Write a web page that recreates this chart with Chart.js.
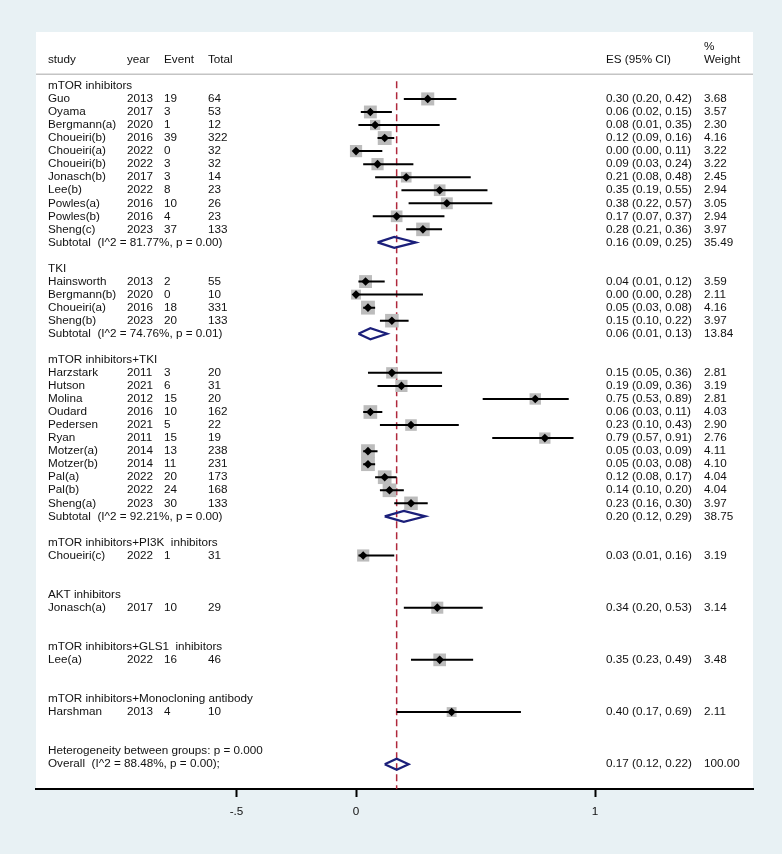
<!DOCTYPE html>
<html><head><meta charset="utf-8">
<script src="https://cdn.jsdelivr.net/npm/chart.js@4.4.1/dist/chart.umd.min.js"></script>
<style>html,body{margin:0;padding:0;background:#e8f1f4;}canvas{display:block;}</style>
</head><body>
<canvas id="c" width="782" height="854"></canvas>
<script>
// ---------- DATA ----------
const groupNames = [
  "mTOR inhibitors",
  "TKI",
  "mTOR inhibitors+TKI",
  "mTOR inhibitors+PI3K  inhibitors",
  "AKT inhibitors",
  "mTOR inhibitors+GLS1  inhibitors",
  "mTOR inhibitors+Monocloning antibody"
];
const studies = ["Guo","Oyama","Bergmann(a)","Choueiri(b)","Choueiri(a)","Choueiri(b)","Jonasch(b)","Lee(b)","Powles(a)","Powles(b)","Sheng(c)",
  "Hainsworth","Bergmann(b)","Choueiri(a)","Sheng(b)",
  "Harzstark","Hutson","Molina","Oudard","Pedersen","Ryan","Motzer(a)","Motzer(b)","Pal(a)","Pal(b)","Sheng(a)",
  "Choueiri(c)","Jonasch(a)","Lee(a)","Harshman"];
const groupOf = [0,0,0,0,0,0,0,0,0,0,0, 1,1,1,1, 2,2,2,2,2,2,2,2,2,2,2, 3,4,5,6];
const years  = [2013,2017,2020,2016,2022,2022,2017,2022,2016,2016,2023, 2013,2020,2016,2023, 2011,2021,2012,2016,2021,2011,2014,2014,2022,2022,2023, 2022,2017,2022,2013];
const events = [19,3,1,39,0,3,3,8,10,4,37, 2,0,18,20, 3,6,15,10,5,15,13,11,20,24,30, 1,10,16,4];
const totals = [64,53,12,322,32,32,14,23,26,23,133, 55,10,331,133, 20,31,20,162,22,19,238,231,173,168,133, 31,29,46,10];
const es = [0.30,0.06,0.08,0.12,0.00,0.09,0.21,0.35,0.38,0.17,0.28, 0.04,0.00,0.05,0.15, 0.15,0.19,0.75,0.06,0.23,0.79,0.05,0.05,0.12,0.14,0.23, 0.03,0.34,0.35,0.40];
const lo = [0.20,0.02,0.01,0.09,0.00,0.03,0.08,0.19,0.22,0.07,0.21, 0.01,0.00,0.03,0.10, 0.05,0.09,0.53,0.03,0.10,0.57,0.03,0.03,0.08,0.10,0.16, 0.01,0.20,0.23,0.17];
const hi = [0.42,0.15,0.35,0.16,0.11,0.24,0.48,0.55,0.57,0.37,0.36, 0.12,0.28,0.08,0.22, 0.36,0.36,0.89,0.11,0.43,0.91,0.09,0.08,0.17,0.20,0.30, 0.16,0.53,0.49,0.69];
const weights = [3.68,3.57,2.30,4.16,3.22,3.22,2.45,2.94,3.05,2.94,3.97, 3.59,2.11,4.16,3.97, 2.81,3.19,2.81,4.03,2.90,2.76,4.11,4.10,4.04,4.04,3.97, 3.19,3.14,3.48,2.11];
const subLabels = ["Subtotal  (I^2 = 81.77%, p = 0.00)","Subtotal  (I^2 = 74.76%, p = 0.01)","Subtotal  (I^2 = 92.21%, p = 0.00)",null,null,null,null];
const subES = [0.16,0.06,0.20,null,null,null,null];
const subLo = [0.09,0.01,0.12,null,null,null,null];
const subHi = [0.25,0.13,0.29,null,null,null,null];
const subW  = [35.49,13.84,38.75,null,null,null,null];
const hetLabel = "Heterogeneity between groups: p = 0.000";
const overallLabel = "Overall  (I^2 = 88.48%, p = 0.00);";
const overallES = 0.17, overallLo = 0.12, overallHi = 0.22, overallW = 100.00;
const headerCols = ["study","year","Event","Total"];
const tickValues = [-0.5, 0, 1];
const tickLabels = ["-.5", "0", "1"];

// ---------- ROW LAYOUT ----------
let row = 0;
const headerRow = [], studyRow = [], subRow = [];
groupNames.forEach((g, gi) => {
  headerRow[gi] = row++;
  studies.forEach((s, i) => { if (groupOf[i] === gi) studyRow[i] = row++; });
  subRow[gi] = row++;
  row++;
});
const hetRow = row++;
const overallRow = row++;

// ---------- STYLE / LAYOUT CONSTANTS ----------
const FONT = '11.7px "Liberation Sans", Arial, sans-serif';
const TEXT = '#111';
const NAVY = '#1b1f7a';
const RED = '#b0283c';
const GREY = '#bcbcbc';
const COL = {study:48, year:127, event:164, total:208, es:606, w:704};
const DIAMOND_H = 0.42; // half-height in row units

const fmt = v => v.toFixed(2);
const esText = (e,l,h) => `${fmt(e)} (${fmt(l)}, ${fmt(h)})`;

// ---------- DATASETS ----------
const ciData = [];
studies.forEach((s,i) => {
  ciData.push({x:lo[i], y:studyRow[i]}, {x:hi[i], y:studyRow[i]}, {x:NaN, y:NaN});
});
const ptData = studies.map((s,i) => ({x:es[i], y:studyRow[i]}));
const diaData = [];
function addDiamond(e,l,h,r){
  diaData.push({x:l,y:r},{x:e,y:r-DIAMOND_H},{x:h,y:r},{x:e,y:r+DIAMOND_H},{x:l,y:r},{x:NaN,y:NaN});
}
groupNames.forEach((g,gi) => { if (subLabels[gi]) addDiamond(subES[gi], subLo[gi], subHi[gi], subRow[gi]); });
addDiamond(overallES, overallLo, overallHi, overallRow);

const bgPlugin = {
  id:'bg',
  beforeDraw(chart){
    const {ctx, chartArea:a} = chart;
    ctx.save();
    ctx.fillStyle = '#e8f1f4';
    ctx.fillRect(0,0,chart.width,chart.height);
    ctx.fillStyle = '#ffffff';
    ctx.fillRect(a.left, a.top, a.right-a.left, a.bottom-a.top);
    // header separator
    const ys = chart.scales.y.getPixelForValue(-0.9);
    ctx.strokeStyle = '#c4c4c4';
    ctx.lineWidth = 1.5;
    ctx.beginPath(); ctx.moveTo(a.left, ys); ctx.lineTo(a.right, ys); ctx.stroke();
    ctx.restore();
  }
};

const textPlugin = {
  id:'txt',
  afterDraw(chart){
    const {ctx} = chart;
    const y = chart.scales.y;
    ctx.save();
    ctx.font = FONT;
    ctx.fillStyle = TEXT;
    ctx.textBaseline = 'middle';
    ctx.textAlign = 'left';
    const put = (t, x, r) => ctx.fillText(t, x, y.getPixelForValue(r));
    // header
    put(headerCols[0], COL.study, -2);
    put(headerCols[1], COL.year, -2);
    put(headerCols[2], COL.event, -2);
    put(headerCols[3], COL.total, -2);
    put("ES (95% CI)", COL.es, -2);
    put("%", COL.w, -3);
    put("Weight", COL.w, -2);
    groupNames.forEach((g,gi) => {
      put(g, COL.study, headerRow[gi]);
      if (subLabels[gi]) {
        put(subLabels[gi], COL.study, subRow[gi]);
        put(esText(subES[gi], subLo[gi], subHi[gi]), COL.es, subRow[gi]);
        put(fmt(subW[gi]), COL.w, subRow[gi]);
      }
    });
    studies.forEach((s,i) => {
      const r = studyRow[i];
      put(s, COL.study, r);
      put(String(years[i]), COL.year, r);
      put(String(events[i]), COL.event, r);
      put(String(totals[i]), COL.total, r);
      put(esText(es[i], lo[i], hi[i]), COL.es, r);
      put(fmt(weights[i]), COL.w, r);
    });
    put(hetLabel, COL.study, hetRow);
    put(overallLabel, COL.study, overallRow);
    put(esText(overallES, overallLo, overallHi), COL.es, overallRow);
    put(fmt(overallW), COL.w, overallRow);
    ctx.restore();
  }
};

new Chart(document.getElementById('c'), {
  type:'scatter',
  data:{ datasets:[
    { label:'null', data:[{x:overallES,y:-0.35},{x:overallES,y:60}], showLine:true, pointRadius:0,
      borderColor:RED, borderWidth:1.5, borderDash:[7,4], order:6 },
    { label:'weights', data:ptData, pointStyle:'rect', backgroundColor:GREY, borderWidth:0,
      pointRadius: c => 4.81*Math.sqrt(weights[c.dataIndex]), order:5 },
    { label:'ci', data:ciData, showLine:true, pointRadius:0, borderColor:'#000', borderWidth:2, order:4 },
    { label:'es', data:ptData, pointStyle:'rectRot', pointRadius:4.3, backgroundColor:'#000', borderWidth:0, order:3 },
    { label:'sub', data:diaData, showLine:true, pointRadius:0, borderColor:NAVY, borderWidth:2.2,
      borderJoinStyle:'miter', order:2 }
  ]},
  options:{
    responsive:false, animation:false, devicePixelRatio:1,
    layout:{ padding:{ left:36, right:29, top:32, bottom:0 } },
    plugins:{ legend:{display:false}, tooltip:{enabled:false} },
    scales:{
      x:{ type:'linear', min:-1.339, max:1.661,
        afterFit: s => { s.height = 65; },
        afterBuildTicks: s => { s.ticks = tickValues.map(v => ({value:v})); },
        border:{ display:true, color:'#000', width:2 },
        grid:{ drawOnChartArea:false, drawTicks:true, tickLength:8, tickWidth:2, tickColor:'#000', color:'#000' },
        ticks:{ padding:8, color:TEXT, font:{family:'"Liberation Sans", Arial, sans-serif', size:11.7},
          maxRotation:0, autoSkip:false,
          callback: (v, i) => tickLabels[i] }
      },
      y:{ type:'linear', min:-4.13, max:53.9, reverse:true, display:false }
    }
  },
  plugins:[bgPlugin, textPlugin]
});
</script>
</body></html>
